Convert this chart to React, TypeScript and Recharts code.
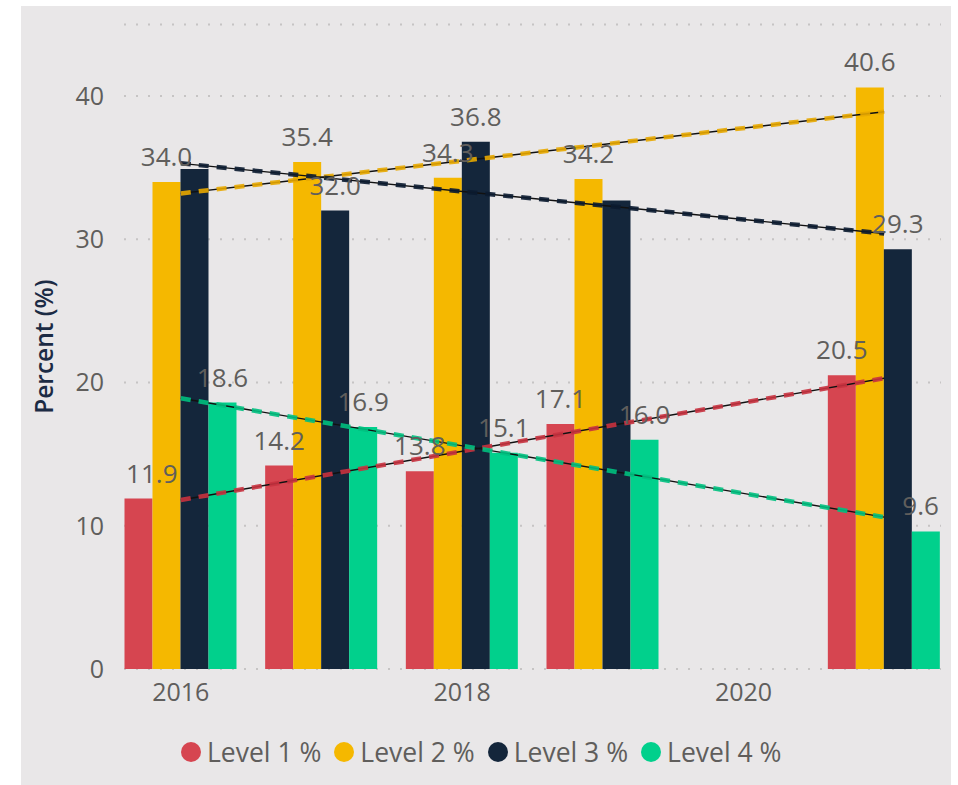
import React from 'react';
import { ComposedChart, Bar, Line, XAxis, YAxis, CartesianGrid, LabelList } from 'recharts';

// ---- data ----
const years = [2016, 2017, 2018, 2019, 2021];
const level1 = [11.9, 14.2, 13.8, 17.1, 20.5];
const level2 = [34.0, 35.4, 34.3, 34.2, 40.6];
const level3 = [34.9, 32.0, 36.8, 32.7, 29.3];
const level4 = [18.6, 16.9, 15.1, 16.0, 9.6];

const trendYears = [2016, 2021];
const trend1 = [11.8, 20.3];
const trend2 = [33.2, 38.9];
const trend3 = [35.3, 30.4];
const trend4 = [18.9, 10.6];

const seriesNames = ['Level 1 %', 'Level 2 %', 'Level 3 %', 'Level 4 %'];
const xTicks = [2016, 2018, 2020];
const yTicks = [0, 10, 20, 30, 40];
const hiddenLabelYears3 = [2016, 2019];

// ---- style ----
const COLORS = ['#D64550', '#F5B800', '#14263B', '#01D08C'];
const TREND_COLORS = ['#C8323F', '#E8A800', '#0B1B30', '#00C080'];
const TEXT = '#605E5C';
const FONT = '"Open Sans", sans-serif';
const PLOT_LEFT = 124;
const PLOT_RIGHT = 941;

const data = years.map((y, i) => {
  const row: any = { year: y, l1: level1[i], l2: level2[i], l3: level3[i], l4: level4[i] };
  const ti = trendYears.indexOf(y);
  if (ti >= 0) {
    row.t1 = trend1[ti];
    row.t2 = trend2[ti];
    row.t3 = trend3[ti];
    row.t4 = trend4[ti];
  }
  return row;
});

const makeLabel = (hidden: number[]) => (props: any) => {
  const { x, y, width, value, index } = props;
  if (value == null || hidden.includes(years[index])) return null;
  const txt = Number(value).toFixed(1);
  const w = txt.length * 14.9 - 8;
  let cx = Number(x) + Number(width) / 2;
  if (cx - w / 2 < PLOT_LEFT + 2) cx = PLOT_LEFT + 2 + w / 2;
  if (cx + w / 2 > PLOT_RIGHT - 2) cx = PLOT_RIGHT - 2 - w / 2;
  return (
    <text x={cx} y={Number(y) - 16} textAnchor="middle" fontSize={26} fill={TEXT} fontFamily={FONT}>
      {txt}
    </text>
  );
};

const YTitle = (props: any) => {
  const vb = props.viewBox || {};
  const cx = 44;
  const cy = (vb.y || 0) + (vb.height || 0) / 2;
  return (
    <text
      x={cx}
      y={cy}
      transform={`rotate(-90, ${cx}, ${cy})`}
      textAnchor="middle"
      dominantBaseline="central"
      fontSize={24.5}
      fontWeight={600}
      fill="#1C2B44"
      fontFamily={FONT}
    >
      Percent (%)
    </text>
  );
};

export default function App() {
  const keys = ['l1', 'l2', 'l3', 'l4'];
  const tkeys = ['t1', 't2', 't3', 't4'];
  return (
    <div style={{ position: 'absolute', left: 0, top: 0, width: 958, height: 785, background: '#ffffff', overflow: 'hidden' }}>
      <div style={{ position: 'absolute', left: 21, top: 6, width: 930, height: 779, background: '#E9E7E8' }} />
      <div style={{ position: 'absolute', left: 0, top: 0 }}>
        <ComposedChart
          width={958}
          height={785}
          data={data}
          margin={{ top: 24.4, right: 17, bottom: 76, left: 0 }}
          barGap={0}
        >
          <CartesianGrid vertical={false} stroke="#C6C4C4" strokeDasharray="2 10" strokeWidth={2} />
          <XAxis
            dataKey="year"
            type="number"
            domain={[2015.596, 2021.404]}
            ticks={xTicks}
            allowDataOverflow
            axisLine={false}
            tickLine={false}
            tickSize={0}
            tickMargin={14}
            height={40}
            tick={{ fontSize: 25, fill: TEXT, fontFamily: FONT }}
          />
          <YAxis
            type="number"
            domain={[0, 45]}
            ticks={yTicks}
            allowDataOverflow
            axisLine={false}
            tickLine={false}
            tickSize={0}
            tickMargin={20}
            width={124}
            tick={{ fontSize: 25, fill: TEXT, fontFamily: FONT }}
            label={<YTitle />}
          />
          {keys.map((k, i) => (
            <Bar key={k} dataKey={k} name={seriesNames[i]} fill={COLORS[i]} barSize={28} isAnimationActive={false}>
              <LabelList dataKey={k} content={makeLabel(i === 2 ? hiddenLabelYears3 : [])} />
            </Bar>
          ))}
          {tkeys.map((k) => (
            <Line
              key={k + 'b'}
              dataKey={k}
              type="linear"
              stroke="#111111"
              strokeWidth={1.4}
              dot={false}
              activeDot={false}
              connectNulls
              legendType="none"
              isAnimationActive={false}
            />
          ))}
          {tkeys.map((k, i) => (
            <Line
              key={k + 'd'}
              dataKey={k}
              type="linear"
              stroke={TREND_COLORS[i]}
              strokeOpacity={0.9}
              strokeWidth={4.5}
              strokeDasharray="10 8"
              dot={false}
              activeDot={false}
              connectNulls
              legendType="none"
              isAnimationActive={false}
            />
          ))}
        </ComposedChart>
      </div>
      <div
        style={{
          position: 'absolute',
          left: 181,
          top: 735,
          height: 34,
          display: 'flex',
          alignItems: 'center',
          fontFamily: FONT,
          fontSize: 26.5,
          color: TEXT,
          whiteSpace: 'nowrap',
        }}
      >
        {seriesNames.map((n, i) => (
          <div key={n} style={{ display: 'flex', alignItems: 'center', marginRight: 13 }}>
            <span
              style={{
                display: 'inline-block',
                width: 20,
                height: 20,
                borderRadius: '50%',
                background: COLORS[i],
                marginRight: 6,
              }}
            />
            <span>{n}</span>
          </div>
        ))}
      </div>
    </div>
  );
}
